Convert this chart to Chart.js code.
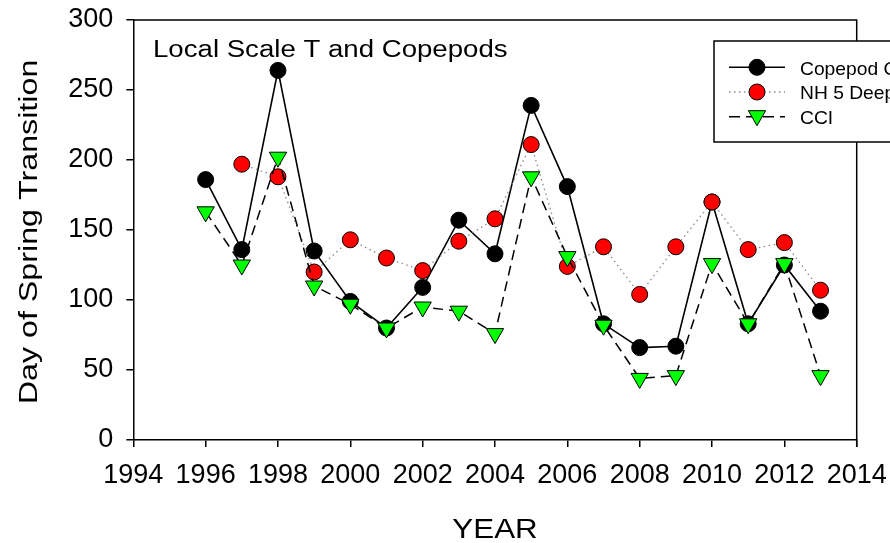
<!DOCTYPE html>
<html><head><meta charset="utf-8">
<script src="https://cdn.jsdelivr.net/npm/chart.js@4"></script>
<style>html,body{margin:0;padding:0;background:#fff;}#wrap{width:890px;height:543px;overflow:hidden;}</style>
</head><body><div id="wrap"><canvas id="c" width="890" height="543"></canvas></div>
<script>
const years = [1996,1997,1998,1999,2000,2001,2002,2003,2004,2005,2006,2007,2008,2009,2010,2011,2012,2013];
const copepodC = [186,136,264,135,99,80,109,157,133,239,181,83,66,67,170,83,125,92];
const nh5Deep = [null,197,188,120,143,130,121,142,158,211,124,138,104,138,170,136,141,107];
const cci = [163,125,202,110,97,80,95,92,76,188,131,82,44,46,126,83,126,46];
const seriesNames = ['Copepod Community','NH 5 Deep Temperature','CCI'];
const xTicks = [1994,1996,1998,2000,2002,2004,2006,2008,2010,2012,2014];
const yTicks = [0,50,100,150,200,250,300];
const annotationText = 'Local Scale T and Copepods';
const xTitle = 'YEAR';
const yTitle = 'Day of Spring Transition';

const FONT = "'Liberation Sans', Arial, Helvetica, sans-serif";
const toXY = arr => years.map((yr,i)=>({x:yr, y:arr[i]}));
const zeroPad = s => { s.paddingTop=0; s.paddingBottom=0; s.paddingLeft=0; s.paddingRight=0; };

const frameAndText = {
  id:'frameAndText',
  beforeDatasetsDraw(chart){
    const {ctx, chartArea:a} = chart;
    ctx.save();
    ctx.strokeStyle='#000'; ctx.lineWidth=1.5;
    ctx.beginPath();
    ctx.moveTo(a.left, a.top); ctx.lineTo(a.right, a.top); ctx.lineTo(a.right, a.bottom+7);
    ctx.stroke();
    ctx.restore();
  },
  afterDraw(chart){
    const {ctx, chartArea:a} = chart;
    ctx.save();
    ctx.fillStyle='#000';
    ctx.save();
    ctx.font = '23.5px ' + FONT;
    ctx.textAlign='left'; ctx.textBaseline='alphabetic';
    ctx.translate(153, 56.7); ctx.scale(1.175,1);
    ctx.fillText(annotationText, 0, 0);
    ctx.restore();
    ctx.save();
    ctx.font = '26px ' + FONT;
    ctx.textAlign='center'; ctx.textBaseline='alphabetic';
    ctx.translate(37, (a.top+a.bottom)/2 + 2); ctx.rotate(-Math.PI/2); ctx.scale(1.24,1);
    ctx.fillText(yTitle, 0, 0);
    ctx.restore();
    ctx.save();
    ctx.font = '28px ' + FONT;
    ctx.textAlign='center'; ctx.textBaseline='alphabetic';
    ctx.translate((a.left+a.right)/2, 538); ctx.scale(1.12,1);
    ctx.fillText(xTitle, 0, 0);
    ctx.restore();
    const lx=714, ly=41, lw=200, lh=101;
    ctx.fillStyle='#fff';
    ctx.fillRect(lx, ly, lw, lh);
    ctx.strokeStyle='#000'; ctx.lineWidth=1.5;
    ctx.strokeRect(lx, ly, lw, lh);
    const rows=[67.3, 92, 116.7];
    chart.data.datasets.forEach((ds,i)=>{
      const y=rows[i];
      ctx.save();
      ctx.strokeStyle=ds.borderColor; ctx.lineWidth=ds.borderWidth;
      ctx.setLineDash(ds.legendDash || ds.borderDash || []);
      ctx.beginPath(); ctx.moveTo(729,y); ctx.lineTo(785,y); ctx.stroke();
      ctx.restore();
      ctx.save();
      ctx.fillStyle=ds.pointBackgroundColor; ctx.strokeStyle=ds.pointBorderColor;
      ctx.lineWidth=ds.pointBorderWidth;
      Chart.helpers.drawPoint(ctx,{pointStyle:ds.pointStyle, rotation:ds.pointRotation||0, radius:ds.pointRadius, borderWidth:ds.pointBorderWidth}, 757, ds.pointStyle==='triangle'? y-1 : y);
      ctx.restore();
      ctx.save();
      ctx.fillStyle='#000';
      ctx.font='18.5px ' + FONT;
      ctx.textAlign='left'; ctx.textBaseline='alphabetic';
      ctx.translate(800, y+7.3); ctx.scale(1.04,1);
      ctx.fillText(ds.label, 0, 0);
      ctx.restore();
    });
    ctx.restore();
  }
};

new Chart(document.getElementById('c'), {
  type:'line',
  data:{
    datasets:[
      {label:seriesNames[0], data:toXY(copepodC), order:3,
       borderColor:'#000', borderWidth:1.6, borderDash:[],
       pointStyle:'circle', pointRadius:8, pointBackgroundColor:'#000', pointBorderColor:'#000', pointBorderWidth:1},
      {label:seriesNames[1], data:toXY(nh5Deep), order:2, spanGaps:true,
       borderColor:'#8a8a8a', borderWidth:1.3, borderDash:[1.5,3.5], legendDash:[1.5,3.5],
       pointStyle:'circle', pointRadius:8, pointBackgroundColor:'#ff0000', pointBorderColor:'#000', pointBorderWidth:1},
      {label:seriesNames[2], data:toXY(cci), order:1,
       borderColor:'#000', borderWidth:1.5, borderDash:[10,6], legendDash:[11,6],
       pointStyle:'triangle', pointRotation:180, pointRadius:10, pointBackgroundColor:'#00ff00', pointBorderColor:'#000', pointBorderWidth:1}
    ]
  },
  options:{
    responsive:false, animation:false, devicePixelRatio:1,
    layout:{padding:{left:0, right:33.3, top:20, bottom:0}},
    plugins:{legend:{display:false}, tooltip:{enabled:false}},
    elements:{line:{tension:0}},
    scales:{
      x:{type:'linear', min:1994, max:2014,
        afterBuildTicks:s=>{s.ticks = xTicks.map(v=>({value:v}));},
        afterFit:s=>{s.height=103; zeroPad(s);},
        ticks:{autoSkip:false, maxRotation:0, padding:12, color:'#000', font:{family:FONT, size:27}, callback:v=>String(v)},
        grid:{drawOnChartArea:false, drawTicks:true, tickLength:7, color:'#000', lineWidth:1.5},
        border:{color:'#000', width:1.5}
      },
      y:{type:'linear', min:0, max:300,
        afterBuildTicks:s=>{s.ticks = yTicks.map(v=>({value:v}));},
        afterFit:s=>{s.width=133.3; zeroPad(s);},
        ticks:{padding:13, color:'#000', font:{family:FONT, size:27}, callback:v=>String(v)},
        grid:{drawOnChartArea:false, drawTicks:true, tickLength:7, color:'#000', lineWidth:1.5},
        border:{color:'#000', width:1.5}
      }
    }
  },
  plugins:[frameAndText]
});
</script>
</body></html>
